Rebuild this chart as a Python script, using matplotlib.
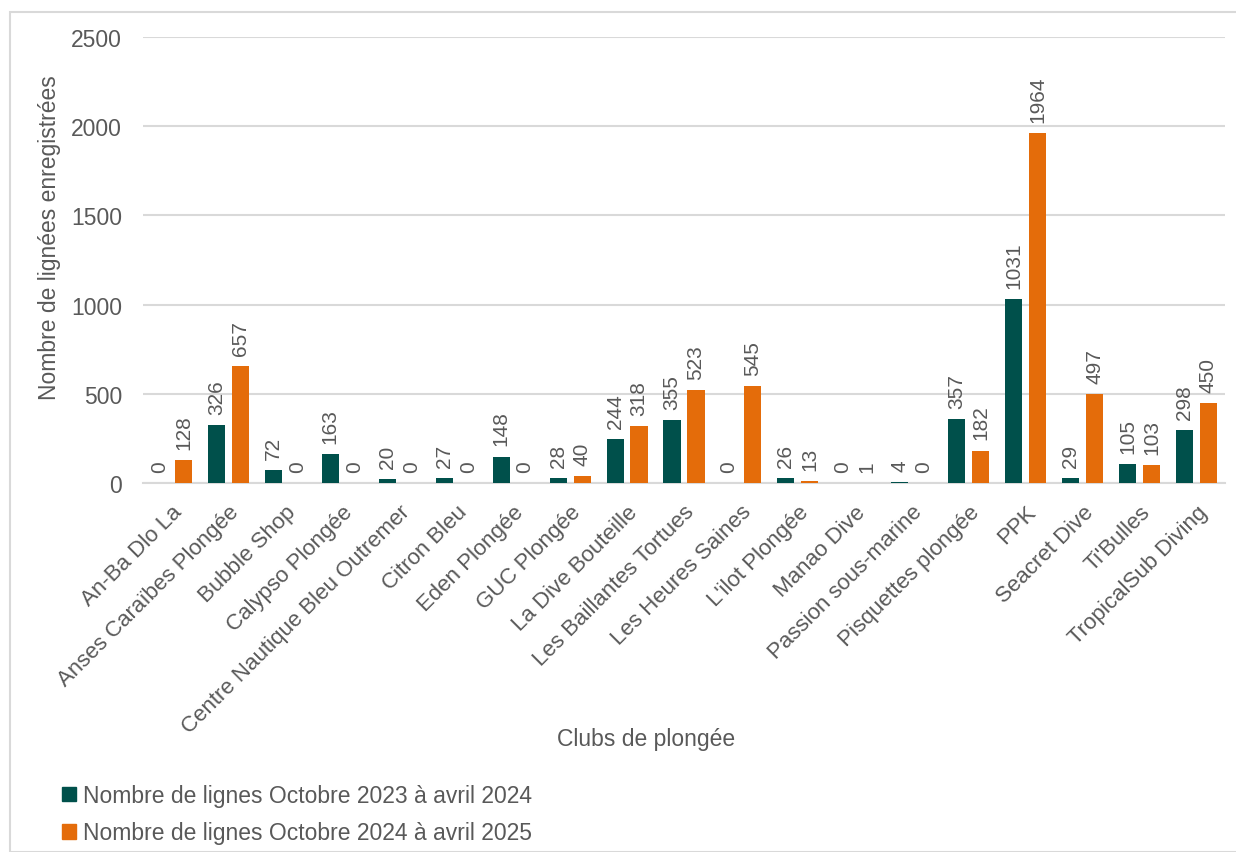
import matplotlib
matplotlib.use("Agg")
import matplotlib.pyplot as plt
import numpy as np
from matplotlib.patches import Rectangle, Patch
import matplotlib.transforms as mtransforms

clubs = ["An-Ba Dlo La", "Anses Caraïbes Plongée", "Bubble Shop", "Calypso Plongée",
         "Centre Nautique Bleu Outremer", "Citron Bleu", "Eden Plongée", "GUC Plongée",
         "La Dive Bouteille", "Les Baillantes Tortues", "Les Heures Saines", "L'ilot Plongée",
         "Manao Dive", "Passion sous-marine", "Pisquettes plongée", "PPK", "Seacret Dive",
         "Ti'Bulles", "TropicalSub Diving"]
serie_2023 = [0, 326, 72, 163, 20, 27, 148, 28, 244, 355, 0, 26, 0, 4, 357, 1031, 29, 105, 298]
serie_2024 = [128, 657, 0, 0, 0, 0, 0, 40, 318, 523, 545, 13, 1, 0, 182, 1964, 497, 103, 450]
label_2023 = "Nombre de lignes Octobre 2023 à avril 2024"
label_2024 = "Nombre de lignes Octobre 2024 à avril 2025"
yticks = [0, 500, 1000, 1500, 2000, 2500]

TEAL = "#00504B"
ORANGE = "#E46C0A"
GREY = "#595959"
GRID = "#D9D9D9"

plt.rcParams['font.family'] = ['Liberation Sans', 'DejaVu Sans']

W, H = 1236, 853
fig = plt.figure(figsize=(W / 100, H / 100), dpi=100)
ax = fig.add_axes([143 / W, 1 - 484 / H, (1225 - 143) / W, (484 - 38) / H])

x = np.arange(len(clubs))
bw = 0.30
off = 0.21
b1 = ax.bar(x - off, serie_2023, bw, color=TEAL, label=label_2023, zorder=3)
b2 = ax.bar(x + off, serie_2024, bw, color=ORANGE, label=label_2024, zorder=3)

for bars in (b1, b2):
    ax.bar_label(bars, padding=8, rotation=90, fontsize=15, color=GREY)

ax.set_xlim(-0.5, len(clubs) - 0.5)
ax.set_ylim(0, 2500)
ax.set_yticks(yticks)
ax.set_yticklabels([str(v) for v in yticks], fontsize=16.5, color=GREY)
ax.yaxis.grid(True, color=GRID, linewidth=1.5, zorder=0)
ax.set_axisbelow(True)
ax.tick_params(axis='both', length=0)
ax.tick_params(axis='y', pad=15)
for s in ["top", "right", "left"]:
    ax.spines[s].set_visible(False)
ax.spines["bottom"].set_color(GRID)
ax.spines["bottom"].set_linewidth(1.5)

ax.set_xticks(x)
ax.set_xticklabels(clubs, rotation=45, ha='right', va='top', rotation_mode='anchor',
                   fontsize=16, color=GREY)
ax.tick_params(axis='x', pad=13)
offset = mtransforms.ScaledTranslation(0 / 100, 0, fig.dpi_scale_trans)
for lab in ax.get_xticklabels():
    lab.set_transform(lab.get_transform() + offset)

fig.text(50 / W, 1 - 238 / H, "Nombre de lignées enregistrées", rotation=90,
         ha='center', va='center', fontsize=16.5, color=GREY)
fig.text(646 / W, 1 - 740 / H, "Clubs de plongée", ha='center', va='center',
         fontsize=16.5, color=GREY)

handles = [Patch(color=TEAL), Patch(color=ORANGE)]
fig.legend(handles, [label_2023, label_2024], loc='upper left',
           bbox_to_anchor=(53 / W, 1 - 776 / H), frameon=False, fontsize=16.5,
           labelcolor=GREY, handlelength=0.6, handleheight=0.6, handletextpad=0.3,
           labelspacing=0.62, borderaxespad=0)

fig.patches.append(Rectangle((10 / W, 0), 1.2, 1 - 13 / H, transform=fig.transFigure,
                             fill=False, edgecolor=GRID, linewidth=1.5))

fig.savefig("out.png", dpi=100)
